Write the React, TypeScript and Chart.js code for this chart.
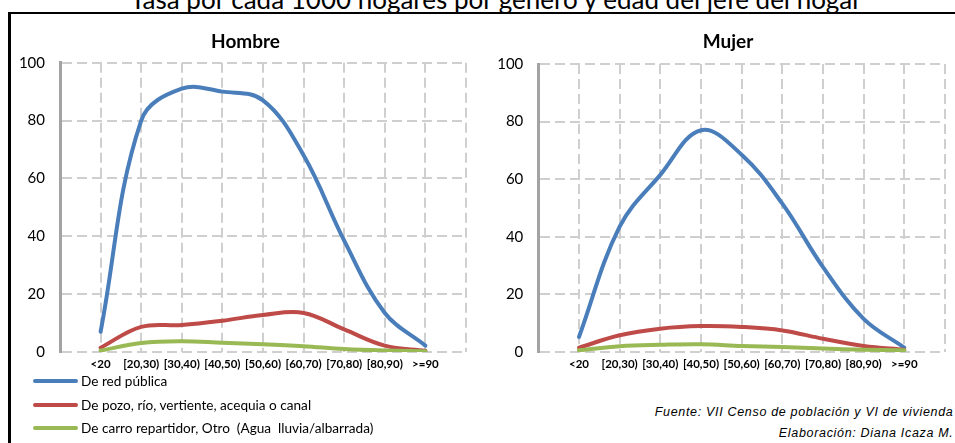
import { useEffect, useRef } from 'react';
import { Chart, registerables } from 'chart.js';

Chart.register(...registerables);

const mainTitle = 'Tasa por cada 1000 hogares por género y edad del jefe del hogar';
const chartTitles = ['Hombre', 'Mujer'];
const categories = ['<20', '[20,30)', '[30,40)', '[40,50)', '[50,60)', '[60,70)', '[70,80)', '[80,90)', '>=90'];
const seriesNames = [
  'De red pública',
  'De pozo, río, vertiente, acequia o canal',
  'De carro repartidor, Otro  (Agua  lluvia/albarrada)',
];
const hombreRedPublica = [7, 80, 91, 90, 87, 68, 38.5, 13.5, 2.2];
const hombrePozo = [1.5, 8.7, 9.3, 10.8, 12.8, 13.5, 7.8, 2.2, 0.4];
const hombreCarro = [0.5, 3.1, 3.7, 3.2, 2.7, 2, 1, 0.5, 0.3];
const mujerRedPublica = [5.2, 43.5, 61.5, 77, 68.5, 51.5, 29.5, 11.5, 1.5];
const mujerPozo = [1.5, 5.8, 8.1, 9, 8.7, 7.5, 4.6, 2.1, 0.8];
const mujerCarro = [0.6, 2, 2.5, 2.7, 2.1, 1.7, 1.2, 0.8, 0.6];
const sourceLines = ['Fuente: VII Censo de población y VI de vivienda', 'Elaboración: Diana Icaza M.'];

const COLORS = ['#4A7EBB', '#BE4B48', '#98B954'];
const GRID = '#cfcfcf';
const AXIS = '#a3a3a3';

type Layout = { padR: number; padTop: number; yWidth: number };

function makeConfig(blue: number[], red: number[], green: number[], lay: Layout): any {
  const labels = ['', ...categories, ''];
  const pad = (arr: number[]) => [null, ...arr, null];
  const series = [blue, red, green];
  return {
    type: 'line',
    data: {
      labels,
      datasets: series.map((s, i) => ({
        label: seriesNames[i],
        data: pad(s),
        borderColor: COLORS[i],
        backgroundColor: COLORS[i],
        order: 3 - i,
      })),
    },
    options: {
      animation: false,
      responsive: false,
      maintainAspectRatio: false,
      events: [],
      layout: { padding: { left: 0, right: lay.padR, top: lay.padTop, bottom: 0 } },
      elements: {
        line: { borderWidth: 4, tension: 0.38, borderCapStyle: 'round', borderJoinStyle: 'round', fill: false },
        point: { radius: 0, hoverRadius: 0 },
      },
      plugins: {
        legend: { display: false },
        tooltip: { enabled: false },
        title: { display: false },
      },
      scales: {
        x: {
          type: 'category',
          offset: false,
          grid: {
            color: (ctx: any) => (ctx.index === 0 ? 'rgba(0,0,0,0)' : GRID),
            lineWidth: 2,
            drawTicks: false,
          },
          border: { display: false, dash: [10, 5] },
          ticks: {
            autoSkip: false,
            maxRotation: 0,
            minRotation: 0,
            padding: 5,
            color: '#000',
            font: { family: 'Lato', size: 11.5, weight: 'bold' },
          },
          afterFit: (s: any) => {
            s.height = 30;
          },
        },
        y: {
          min: 0,
          max: 100,
          ticks: { stepSize: 20, padding: 15, color: '#000', font: { family: 'Lato', size: 15 } },
          grid: { color: GRID, lineWidth: 2, drawTicks: false },
          border: { display: true, color: AXIS, width: 3, dash: [10, 5] },
          afterFit: (s: any) => {
            s.width = lay.yWidth;
          },
        },
      },
    },
  };
}

const legendY = [381, 405, 428];
const titleX = [245.5, 728];

export default function App() {
  const leftRef = useRef<HTMLCanvasElement>(null);
  const rightRef = useRef<HTMLCanvasElement>(null);

  useEffect(() => {
    const c1 = new Chart(
      leftRef.current as HTMLCanvasElement,
      makeConfig(hombreRedPublica, hombrePozo, hombreCarro, { padR: 4, padTop: 48.7, yWidth: 50 })
    );
    const c2 = new Chart(
      rightRef.current as HTMLCanvasElement,
      makeConfig(mujerRedPublica, mujerPozo, mujerCarro, { padR: 4, padTop: 50, yWidth: 46.3 })
    );
    return () => {
      c1.destroy();
      c2.destroy();
    };
  }, []);

  return (
    <div
      style={{
        position: 'fixed',
        left: 0,
        top: 0,
        width: 955,
        height: 443,
        overflow: 'hidden',
        background: '#fff',
        fontFamily: 'Lato, sans-serif',
        color: '#000',
      }}
    >
      <div
        style={{
          position: 'absolute',
          left: 0,
          width: 992,
          top: -15,
          lineHeight: '28px',
          fontSize: 26,
          textAlign: 'center',
          whiteSpace: 'nowrap',
        }}
      >
        {mainTitle}
      </div>
      <div
        style={{
          position: 'absolute',
          left: 8,
          top: 12,
          width: 1000,
          height: 500,
          borderLeft: '3px solid #000',
          borderTop: '2px solid #000',
        }}
      />
      <canvas ref={leftRef} width={461} height={368} style={{ position: 'absolute', left: 10, top: 14, width: 461, height: 368 }} />
      <canvas ref={rightRef} width={458} height={368} style={{ position: 'absolute', left: 492, top: 14, width: 458, height: 368 }} />
      {chartTitles.map((t, i) => (
        <div
          key={t}
          style={{
            position: 'absolute',
            left: titleX[i] - 100,
            width: 200,
            top: 28.75,
            lineHeight: '23px',
            fontSize: 19,
            fontWeight: 'bold',
            textAlign: 'center',
          }}
        >
          {t}
        </div>
      ))}
      {seriesNames.map((n, i) => (
        <div
          key={i}
          style={{
            position: 'absolute',
            left: 33,
            top: legendY[i] - 10,
            height: 20,
            display: 'flex',
            alignItems: 'center',
            whiteSpace: 'pre',
          }}
        >
          <span style={{ display: 'inline-block', width: 45, height: 4, borderRadius: 2, background: COLORS[i], marginRight: 3 }} />
          <span style={{ fontSize: 13.6, lineHeight: '20px' }}>{n}</span>
        </div>
      ))}
      <div
        style={{
          position: 'absolute',
          right: 1.5,
          top: 401.75,
          fontFamily: '"Liberation Sans", Arial, sans-serif',
          fontStyle: 'italic',
          fontSize: 12.5,
          letterSpacing: 0.68,
          textAlign: 'right',
          lineHeight: '21.5px',
          whiteSpace: 'nowrap',
        }}
      >
        {sourceLines.map((l, i) => (
          <div key={i}>{l}</div>
        ))}
      </div>
    </div>
  );
}
